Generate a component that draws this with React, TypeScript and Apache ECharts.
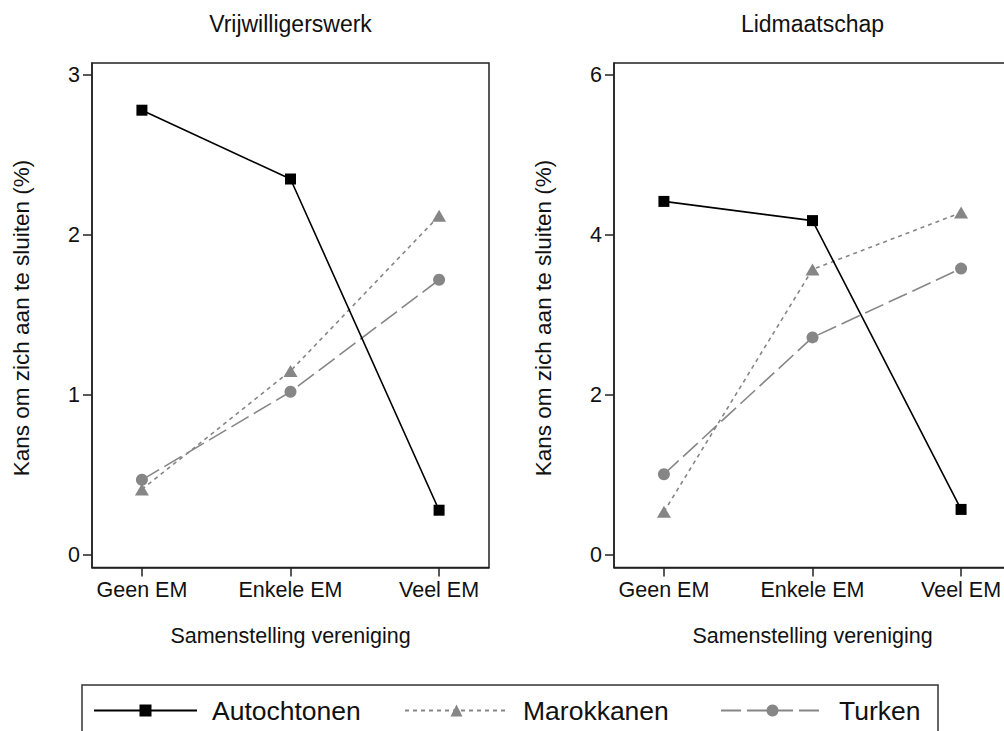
import React, { useEffect, useRef } from "react";
import * as echarts from "echarts";

// ---- data ----
const categories = ["Geen EM", "Enkele EM", "Veel EM"];
const panelTitles = ["Vrijwilligerswerk", "Lidmaatschap"];
const seriesNames = ["Autochtonen", "Marokkanen", "Turken"];
const vrijwilligerswerkAutochtonen = [2.78, 2.35, 0.28];
const vrijwilligerswerkMarokkanen = [0.41, 1.15, 2.12];
const vrijwilligerswerkTurken = [0.47, 1.02, 1.72];
const lidmaatschapAutochtonen = [4.42, 4.18, 0.57];
const lidmaatschapMarokkanen = [0.54, 3.57, 4.28];
const lidmaatschapTurken = [1.01, 2.72, 3.58];
const leftTicks = [0, 1, 2, 3];
const rightTicks = [0, 2, 4, 6];
const yTitle = "Kans om zich aan te sluiten (%)";
const xTitle = "Samenstelling vereniging";

const FONT = "'Liberation Sans', Arial, Helvetica, sans-serif";
const TXT = "#111";
const GRAY = "#868686";
const AXIS = "#222";

const seriesStyles = [
  { color: "#000", symbol: "rect", symbolSize: 11, type: "solid" as any, width: 1.6, z: 4 },
  { color: GRAY, symbol: "triangle", symbolSize: [14, 12], type: [4, 4] as any, width: 1.6, z: 3 },
  { color: GRAY, symbol: "circle", symbolSize: 12, type: [20, 6] as any, width: 1.6, z: 2 },
];

const panelData = [
  [vrijwilligerswerkAutochtonen, vrijwilligerswerkMarokkanen, vrijwilligerswerkTurken],
  [lidmaatschapAutochtonen, lidmaatschapMarokkanen, lidmaatschapTurken],
];

function buildOption() {
  const gridLefts = [92, 614];
  const gridWidth = 397;
  const gridTop = 63;
  const gridHeight = 504.5;
  const yRanges = [
    { min: -0.078, max: 3.075, ticks: leftTicks },
    { min: -0.156, max: 6.15, ticks: rightTicks },
  ];

  const grid = gridLefts.map((left) => ({
    left,
    top: gridTop,
    width: gridWidth,
    height: gridHeight,
    show: true,
    borderColor: AXIS,
    borderWidth: 1.5,
    backgroundColor: "transparent",
    containLabel: false,
    outerBoundsMode: "none",
  }));

  const xAxis = gridLefts.map((_, gi) => ({
    type: "value",
    gridIndex: gi,
    min: -0.336,
    max: 2.336,
    axisLine: { show: true, onZero: false, lineStyle: { color: AXIS, width: 1.5 } },
    axisTick: {
      show: true,
      length: 9,
      customValues: categories.map((_, i) => i),
      lineStyle: { color: AXIS, width: 1.5 },
    },
    axisLabel: {
      customValues: categories.map((_, i) => i),
      formatter: (v: number) => categories[Math.round(v)] ?? "",
      fontSize: 21.5,
      fontFamily: FONT,
      color: TXT,
      margin: 11,
    },
    splitLine: { show: false },
    name: xTitle,
    nameLocation: "middle",
    nameGap: 57,
    nameTextStyle: { fontSize: 21.5, fontFamily: FONT, color: TXT, verticalAlign: "top" },
  }));

  const yAxis = yRanges.map((r, gi) => ({
    type: "value",
    gridIndex: gi,
    min: r.min,
    max: r.max,
    axisLine: { show: true, onZero: false, lineStyle: { color: AXIS, width: 1.5 } },
    axisTick: { show: true, length: 9, customValues: r.ticks, lineStyle: { color: AXIS, width: 1.5 } },
    axisLabel: {
      customValues: r.ticks,
      fontSize: 21.5,
      fontFamily: FONT,
      color: TXT,
      margin: 12,
    },
    splitLine: { show: false },
  }));

  const series: any[] = [];
  panelData.forEach((panel, gi) => {
    panel.forEach((values, si) => {
      const st = seriesStyles[si];
      series.push({
        type: "line",
        name: seriesNames[si],
        xAxisIndex: gi,
        yAxisIndex: gi,
        data: values.map((v, i) => [i, v]),
        symbol: st.symbol,
        symbolSize: st.symbolSize,
        showAllSymbol: true,
        z: st.z,
        lineStyle: { color: st.color, width: st.width, type: st.type },
        itemStyle: { color: st.color, borderWidth: 0 },
        emphasis: { disabled: true },
      });
    });
  });

  const legendLefts = [93, 404, 720];
  const legend = seriesNames.map((name, i) => ({
    data: [name],
    left: legendLefts[i],
    top: 697,
    padding: 0,
    itemWidth: 103,
    itemHeight: 15,
    selectedMode: false,
    textStyle: { fontSize: 26.5, fontFamily: FONT, color: TXT, padding: [0, 0, 0, 10] },
  }));

  const graphic: any[] = [
    ...panelTitles.map((t, gi) => ({
      type: "text",
      x: gridLefts[gi] + gridWidth / 2,
      y: 24,
      style: { text: t, fontSize: 23, fontFamily: FONT, fill: TXT, align: "center", verticalAlign: "middle" },
    })),
    ...[21, 543].map((x) => ({
      type: "text",
      x,
      y: 318,
      rotation: Math.PI / 2,
      style: { text: yTitle, fontSize: 22.5, fontFamily: FONT, fill: TXT, align: "center", verticalAlign: "middle" },
    })),
    {
      type: "rect",
      shape: { x: 82, y: 685, width: 856, height: 80 },
      style: { fill: "none", stroke: "#333", lineWidth: 1.5 },
    },
  ];

  return {
    animation: false,
    backgroundColor: "#fff",
    textStyle: { fontFamily: FONT },
    grid,
    xAxis,
    yAxis,
    series,
    legend,
    graphic,
    tooltip: { show: false },
  };
}

export default function App() {
  const ref = useRef<HTMLDivElement>(null);
  useEffect(() => {
    if (!ref.current) return;
    const chart = echarts.init(ref.current, null, { renderer: "svg" });
    chart.setOption(buildOption() as any);
    return () => chart.dispose();
  }, []);
  return (
    <div
      style={{
        position: "absolute",
        left: 0,
        top: 0,
        width: 1004,
        height: 731,
        overflow: "hidden",
        background: "#fff",
      }}
    >
      <div ref={ref} style={{ width: 1024, height: 731 }} />
    </div>
  );
}
